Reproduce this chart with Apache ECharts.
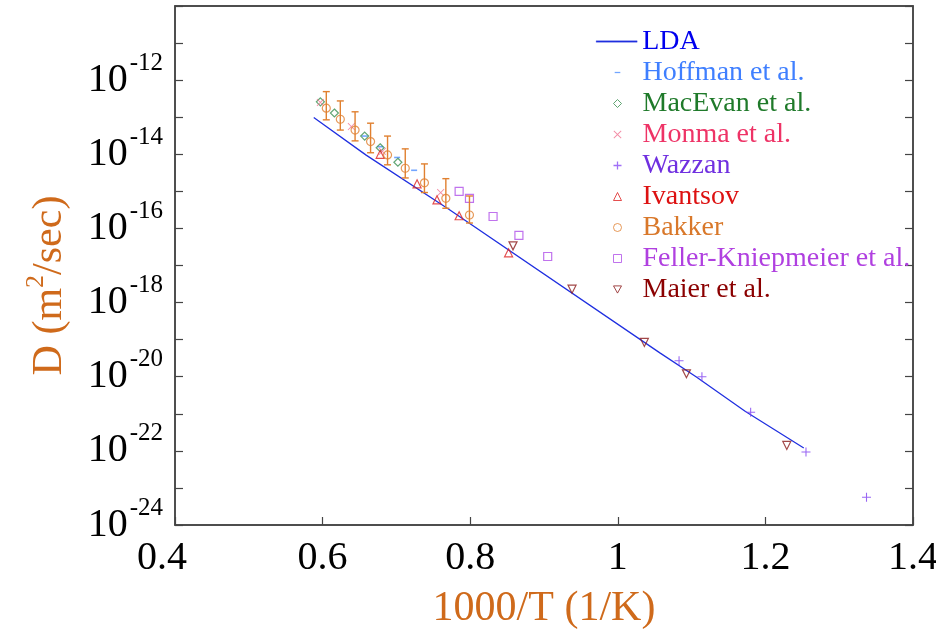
<!DOCTYPE html>
<html>
<head>
<meta charset="utf-8">
<script src="https://cdn.jsdelivr.net/npm/echarts@6/dist/echarts.min.js"></script>
<style>
  html, body { margin: 0; padding: 0; background: #fff; }
  #chart { width: 936px; height: 629px; }
</style>
</head>
<body>
<div id="chart"></div>
<script>
// values: x = 1000/T (1/K), D in m^2/sec
const ldaX = [0.588, 0.659, 0.771, 1.057, 1.106, 1.173, 1.252]
const ldaD = [9.8e-14, 9.5e-15, 3.3e-16, 4.4e-20, 1.0e-20, 1.15e-21, 1.19e-22]

const hoffmanX = [0.657, 0.678, 0.701, 0.724]
const hoffmanD = [3.1e-14, 1.6e-14, 8.2e-15, 3.7e-15]

const macevanX = [0.597, 0.616, 0.657, 0.678, 0.702]
const macevanD = [2.6e-13, 1.3e-13, 3.1e-14, 1.5e-14, 6.1e-15]

const monmaX = [0.597, 0.639, 0.681, 0.760]
const monmaD = [2.5e-13, 5.6e-14, 1.2e-14, 9.3e-16]

const wazzanX = [1.083, 1.114, 1.180, 1.255, 1.337]
const wazzanD = [2.7e-20, 1.0e-20, 1.1e-21, 9.3e-23, 5.6e-24]

const ivantsovX = [0.678, 0.728, 0.755, 0.785, 0.852]
const ivantsovD = [1.0e-14, 1.6e-15, 5.9e-16, 2.2e-16, 2.2e-17]

const bakkerX = [0.605, 0.624, 0.644, 0.665, 0.688, 0.712, 0.738, 0.767, 0.799]
const bakkerD = [1.75e-13, 8.8e-14, 4.5e-14, 2.2e-14, 9.6e-15, 4.2e-15, 1.7e-15, 6.5e-16, 2.3e-16]
const bakkerLo = [8.5e-14, 4.5e-14, 2.3e-14, 1.1e-14, 5.2e-15, 2.3e-15, 9.3e-16, 3.5e-16, 1.4e-16]
const bakkerHi = [4.9e-13, 2.75e-13, 1.4e-13, 6.9e-14, 3.1e-14, 1.4e-14, 5.5e-15, 2.2e-15, 7.5e-16]

const fellerX = [0.785, 0.799, 0.831, 0.866, 0.905]
const fellerD = [1.0e-15, 6.5e-16, 2.1e-16, 6.5e-17, 1.75e-17]

const maierX = [0.858, 0.938, 1.036, 1.093, 1.229]
const maierD = [3.4e-17, 2.3e-18, 8.4e-20, 1.2e-20, 1.4e-22]

const xTickLabels = ['0.4', '0.6', '0.8', '1', '1.2', '1.4']
const yLabelExponents = [-24, -22, -20, -18, -16, -14, -12]

const FONT = 'Liberation Serif'
const ORANGE = '#cf6a1b'
const PLUS = 'path://M4.4,0h1.2v10h-1.2zM0,4.4h10v1.2h-10z'
const PLUS_BOLD = 'path://M4.2,0h1.6v10h-1.6zM0,4.2h10v1.6h-10z'
const CROSS = 'path://M0.8,0L5,4.2L9.2,0L10,0.8L5.8,5L10,9.2L9.2,10L5,5.8L0.8,10L0,9.2L4.2,5L0,0.8z'
const DOWN_TRI = 'path://M0,0.5L10,0.5L5,9.5z'

const pts = (xs, ds) => xs.map((x, i) => [x, Math.log10(ds[i])])

function hollow (color) {
  return { color: 'rgba(0,0,0,0)', borderColor: color, borderWidth: 1.2 }
}
function legendHollow (color) {
  return { color: 'rgba(0,0,0,0)', borderColor: color, borderWidth: 1 }
}
function legendSolid (color) {
  return { color: color, borderColor: color, borderWidth: 0 }
}

const legendText = { fontFamily: FONT, fontSize: 28, lineHeight: 31 }

const chart = echarts.init(document.getElementById('chart'))

chart.setOption({
  animation: false,
  grid: {
    left: 175, right: 23, top: 6, bottom: 104,
    containLabel: false,
    outerBoundsMode: 'none',
    show: true, borderColor: '#444', borderWidth: 1.5
  },
  legend: [
    {
      orient: 'vertical',
      left: 591,
      top: 21,
      itemWidth: 41,
      itemHeight: 7,
      selectedMode: false,
      textStyle: legendText,
      data: [
        {
          name: 'LDA',
          textStyle: { color: '#0000ee' },
          icon: 'path://M0,0h41v1.4h-41z',
          itemStyle: { color: '#2030e0', borderColor: '#2030e0', borderWidth: 0.3 }
        }
      ]
    },
    {
      orient: 'vertical',
      left: 608,
      top: 52,
      itemWidth: 8,
      itemHeight: 8,
      itemGap: 0,
      selectedMode: false,
      textStyle: Object.assign({ padding: [0, 0, 0, 16] }, legendText),
      data: [
        { name: 'Hoffman et al.', textStyle: { color: '#3f7fff' }, icon: 'path://M0,0M1.5,4.2h7v1.6h-7zM10,10', itemStyle: legendSolid('#4f8fff') },
        { name: 'MacEvan et al.', textStyle: { color: '#1f7a2a' }, icon: 'diamond', itemStyle: legendHollow('#3a8f50') },
        { name: 'Monma et al.', textStyle: { color: '#ee3366' }, icon: CROSS, itemStyle: legendSolid('#f07090') },
        { name: 'Wazzan', textStyle: { color: '#7030e0' }, icon: PLUS_BOLD, itemStyle: legendSolid('#8a4cf5') },
        { name: 'Ivantsov', textStyle: { color: '#dd1111' }, icon: 'triangle', itemStyle: legendHollow('#dd2222') },
        { name: 'Bakker', textStyle: { color: '#d9782a' }, icon: 'circle', itemStyle: legendHollow('#e08030') },
        { name: 'Feller-Kniepmeier et al.', textStyle: { color: '#b040e0' }, icon: 'rect', itemStyle: legendHollow('#b050e8') },
        { name: 'Maier et al.', textStyle: { color: '#8b0000' }, icon: DOWN_TRI, itemStyle: legendHollow('#8b1a1a') }
      ]
    }
  ],
  xAxis: [
    {
      type: 'value',
      min: 0.4,
      max: 1.4,
      interval: 0.2,
      axisLine: { show: true, lineStyle: { color: '#444', width: 1.5 } },
      axisTick: { inside: true, length: 8, lineStyle: { color: '#444', width: 1.2 } },
      splitLine: { show: false },
      axisLabel: {
        margin: 13,
        color: '#000',
        fontFamily: FONT,
        fontSize: 40,
        formatter: (v) => {
          const i = Math.round((v - 0.4) / 0.2)
          return i === 0 ? '{f|' + xTickLabels[0] + '}' : xTickLabels[i]
        },
        rich: { f: { fontFamily: FONT, fontSize: 40, color: '#000', padding: [0, 26, 0, 0] } }
      },
      name: '1000/T (1/K)',
      nameLocation: 'middle',
      nameGap: 63,
      nameTextStyle: { fontFamily: FONT, fontSize: 42, color: ORANGE }
    },
    {
      type: 'value',
      position: 'top',
      min: 0.4,
      max: 1.4,
      interval: 0.2,
      axisLine: { show: true, lineStyle: { color: '#444', width: 1.5 } },
      axisTick: { show: false },
      axisLabel: { show: false },
      splitLine: { show: false }
    }
  ],
  yAxis: [
    {
      type: 'value',
      min: -24,
      max: -10,
      interval: 1,
      axisLine: { show: true, lineStyle: { color: '#444', width: 1.5 } },
      axisTick: { inside: true, length: 8, lineStyle: { color: '#444', width: 1.2 } },
      splitLine: { show: false },
      axisLabel: {
        margin: 12,
        formatter: (v) => yLabelExponents.includes(v) ? '{b|10}{s|' + v + '}' : '',
        rich: {
          b: { fontFamily: FONT, fontSize: 40, lineHeight: 40, color: '#000', padding: [0, 2, 0, 0] },
          s: { fontFamily: FONT, fontSize: 25, lineHeight: 25, color: '#000', padding: [0, 0, 34, 0] }
        }
      },
      name: '{n|D (m}{s|2}{n|/sec)}',
      nameLocation: 'middle',
      nameRotate: 90,
      nameGap: 95,
      nameTextStyle: {
        padding: [0, 40, 0, 0],
        rich: {
          n: { fontFamily: FONT, fontSize: 42, lineHeight: 42, color: ORANGE },
          s: { fontFamily: FONT, fontSize: 26, lineHeight: 26, color: ORANGE, padding: [0, 0, 28, 0] }
        }
      }
    },
    {
      type: 'value',
      position: 'right',
      min: -24,
      max: -10,
      interval: 1,
      axisLine: { show: true, lineStyle: { color: '#444', width: 1.5 } },
      axisTick: { inside: true, length: 8, lineStyle: { color: '#444', width: 1.2 } },
      axisLabel: { show: false },
      splitLine: { show: false }
    }
  ],
  series: [
    {
      name: 'LDA',
      type: 'line',
      data: pts(ldaX, ldaD),
      symbol: 'none',
      lineStyle: { color: '#2030e0', width: 1.3 },
      itemStyle: { color: '#2030e0' },
      z: 2
    },
    {
      name: 'Hoffman et al.',
      type: 'scatter',
      data: pts(hoffmanX, hoffmanD),
      symbol: 'rect',
      symbolSize: [6, 1.6],
      itemStyle: { color: '#4f8fff' }
    },
    {
      name: 'MacEvan et al.',
      type: 'scatter',
      data: pts(macevanX, macevanD),
      symbol: 'diamond',
      symbolSize: 8,
      itemStyle: hollow('#3a8f50')
    },
    {
      name: 'Monma et al.',
      type: 'scatter',
      data: pts(monmaX, monmaD),
      symbol: CROSS,
      symbolSize: 7.5,
      itemStyle: { color: '#f07090' }
    },
    {
      name: 'Wazzan',
      type: 'scatter',
      data: pts(wazzanX, wazzanD),
      symbol: PLUS,
      symbolSize: 9,
      itemStyle: { color: '#8040f0' }
    },
    {
      name: 'Ivantsov',
      type: 'scatter',
      data: pts(ivantsovX, ivantsovD),
      symbol: 'triangle',
      symbolSize: 8,
      itemStyle: hollow('#dd2222')
    },
    {
      type: 'custom',
      name: 'bakkerErr',
      data: bakkerX.map((x, i) => [x, Math.log10(bakkerLo[i]), Math.log10(bakkerHi[i])]),
      renderItem: (params, api) => {
        const lo = api.coord([api.value(0), api.value(1)])
        const hi = api.coord([api.value(0), api.value(2)])
        const w = 3.5
        const style = { stroke: '#e08030', lineWidth: 1.4 }
        return {
          type: 'group',
          children: [
            { type: 'line', shape: { x1: lo[0], y1: lo[1], x2: hi[0], y2: hi[1] }, style },
            { type: 'line', shape: { x1: hi[0] - w, y1: hi[1], x2: hi[0] + w, y2: hi[1] }, style },
            { type: 'line', shape: { x1: lo[0] - w, y1: lo[1], x2: lo[0] + w, y2: lo[1] }, style }
          ]
        }
      },
      z: 3
    },
    {
      name: 'Bakker',
      type: 'scatter',
      data: pts(bakkerX, bakkerD),
      symbol: 'circle',
      symbolSize: 8,
      itemStyle: hollow('#e08030'),
      z: 4
    },
    {
      name: 'Feller-Kniepmeier et al.',
      type: 'scatter',
      data: pts(fellerX, fellerD),
      symbol: 'rect',
      symbolSize: 8,
      itemStyle: hollow('#b050e8')
    },
    {
      name: 'Maier et al.',
      type: 'scatter',
      data: pts(maierX, maierD),
      symbol: DOWN_TRI,
      symbolSize: 8,
      itemStyle: hollow('#8b1a1a')
    }
  ]
})
</script>
</body>
</html>
